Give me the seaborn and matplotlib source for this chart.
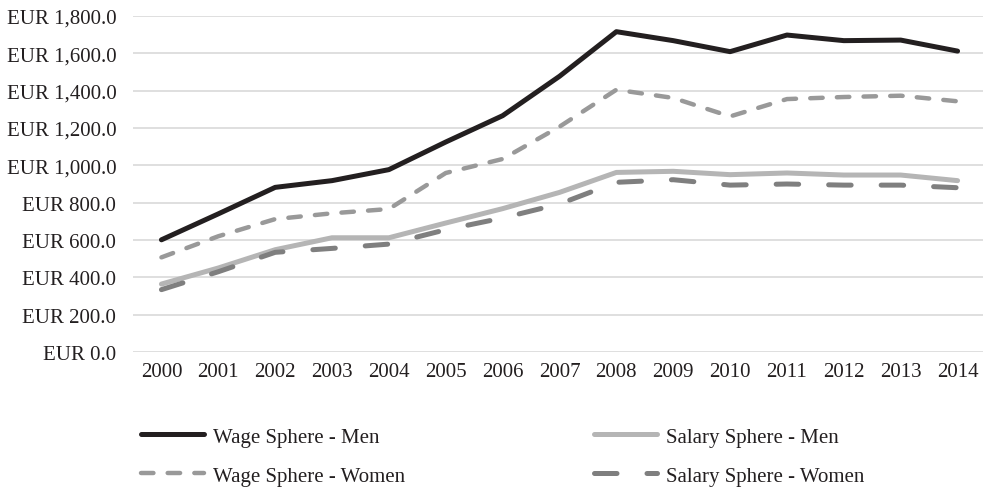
import matplotlib
matplotlib.use("Agg")
import matplotlib.pyplot as plt
import seaborn as sns
import pandas as pd

years = [str(y) for y in range(2000, 2015)]
wage_men = [601, 740, 882, 918, 977, 1125, 1266, 1477, 1716, 1668, 1609, 1698, 1668, 1671, 1612]
wage_women = [507, 620, 712, 743, 766, 959, 1034, 1207, 1405, 1361, 1262, 1355, 1366, 1373, 1343]
salary_men = [364, 450, 548, 612, 612, 691, 768, 855, 962, 968, 950, 959, 948, 948, 918]
salary_women = [334, 430, 534, 555, 578, 655, 718, 793, 909, 923, 894, 900, 894, 894, 880]
y_ticks = [0, 200, 400, 600, 800, 1000, 1200, 1400, 1600, 1800]

sns.set_style("white")
plt.rcParams['font.family'] = ['Liberation Serif', 'DejaVu Serif']
FS = 15

fig = plt.figure(figsize=(9.83, 4.89), dpi=100)
ax = fig.add_axes([133/983, 1 - 353/489, (986 - 133)/983, (353 - 17)/489])

series = [
    ("Wage Sphere - Men", wage_men, "#231f20", 3.6, None),
    ("Wage Sphere - Women", wage_women, "#999999", 3.2, (2.8, 3.2)),
    ("Salary Sphere - Men", salary_men, "#b5b5b5", 3.6, None),
    ("Salary Sphere - Women", salary_women, "#7f7f7f", 3.6, (4.5, 6.0)),
]

x = list(range(len(years)))
handles = []
for name, vals, col, lw, dash in series:
    df = pd.DataFrame({"x": x, "y": vals})
    sns.lineplot(data=df, x="x", y="y", ax=ax, color=col, linewidth=lw, label=name)
    line = ax.get_lines()[-1]
    line.set_solid_capstyle("round")
    line.set_dash_capstyle("round")
    line.set_solid_joinstyle("round")
    if dash is not None:
        line.set_dashes(dash)
    handles.append(line)

ax.set_xlim(-0.5, 14.5)
ax.set_ylim(0, 1800)
ax.set_yticks(y_ticks)
ax.set_yticklabels([f"EUR {v:,.1f}" for v in y_ticks])
ax.set_xticks(x)
ax.set_xticklabels(years)
ax.set_xlabel("")
ax.set_ylabel("")
ax.grid(axis="y", color="#d9d9d9", linewidth=1.2)
ax.grid(axis="x", visible=False)
for s in ax.spines.values():
    s.set_visible(False)
ax.tick_params(axis="both", length=0, labelsize=FS, colors="#231f20")
ax.tick_params(axis="y", pad=12)
ax.tick_params(axis="x", pad=7)
ax.get_legend().remove()

leg_kw = dict(loc="upper left", frameon=False, fontsize=FS, handlelength=3.0,
              handletextpad=0.45, labelspacing=0.94, borderaxespad=0, borderpad=0,
              labelcolor="#231f20")
fig.legend(handles=[handles[0], handles[1]], labels=[series[0][0], series[1][0]],
           bbox_to_anchor=(141/983, 1 - 428/489), **leg_kw)
fig.legend(handles=[handles[2], handles[3]], labels=[series[2][0], series[3][0]],
           bbox_to_anchor=(594/983, 1 - 428/489), **leg_kw)

fig.savefig("out.png", dpi=100)
